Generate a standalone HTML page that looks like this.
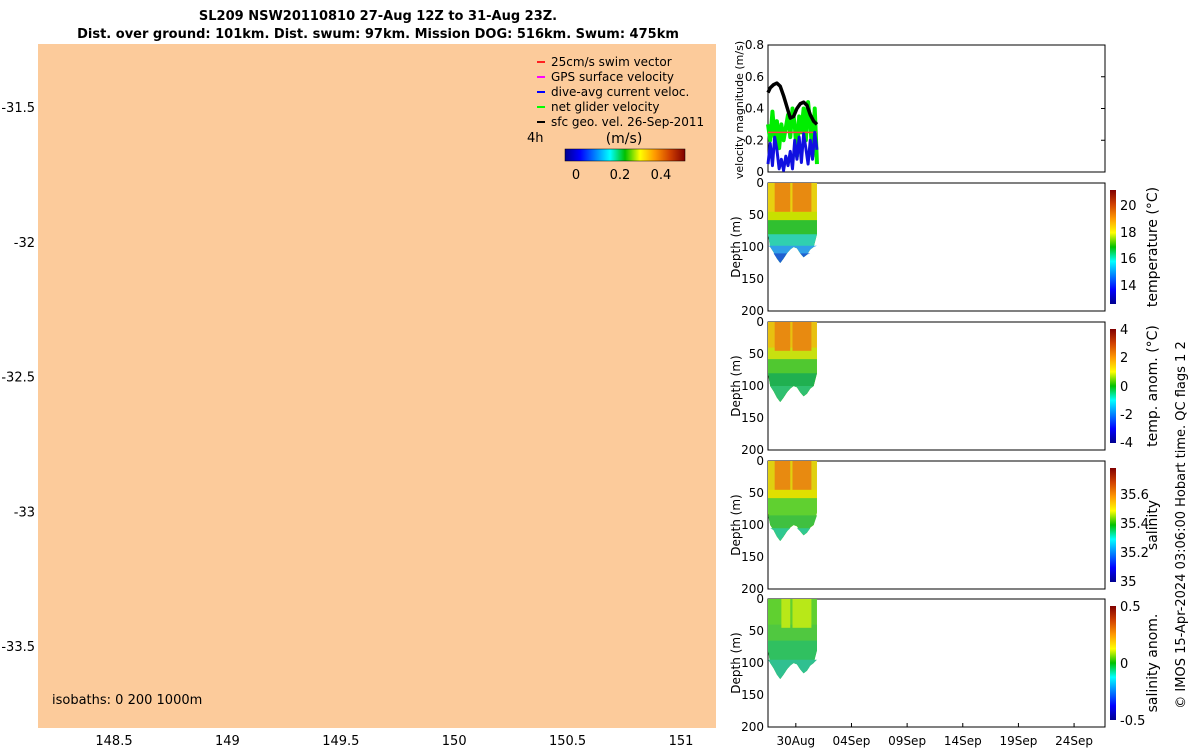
<!DOCTYPE html>
<html><head><meta charset="utf-8"><style>
body{margin:0;background:#fff;font-family:"Liberation Sans","DejaVu Sans",sans-serif}
svg text{font-family:"DejaVu Sans","Liberation Sans",sans-serif}
</style></head><body>
<svg id="fig" width="1200" height="750" viewBox="0 0 1200 750" xmlns="http://www.w3.org/2000/svg">
<defs>
<linearGradient id="jet" x1="0" x2="1" y1="0" y2="0">
<stop offset="0" stop-color="#00008f"/><stop offset="0.125" stop-color="#0000ff"/><stop offset="0.375" stop-color="#00ffff"/><stop offset="0.5" stop-color="#00c000"/><stop offset="0.625" stop-color="#ffff00"/><stop offset="0.75" stop-color="#ff9900"/><stop offset="0.875" stop-color="#d04000"/><stop offset="1" stop-color="#800000"/></linearGradient>
<linearGradient id="jetv" x1="0" x2="0" y1="1" y2="0">
<stop offset="0" stop-color="#00008f"/><stop offset="0.125" stop-color="#0000ff"/><stop offset="0.375" stop-color="#00ffff"/><stop offset="0.5" stop-color="#00c000"/><stop offset="0.625" stop-color="#ffff00"/><stop offset="0.75" stop-color="#ff9900"/><stop offset="0.875" stop-color="#d04000"/><stop offset="1" stop-color="#800000"/></linearGradient>
</defs>
<g id="title" font-weight="bold" font-size="13" text-anchor="middle">
<text x="378" y="20">SL209 NSW20110810 27-Aug 12Z to 31-Aug 23Z.</text>
<text x="378" y="38">Dist. over ground: 101km. Dist. swum: 97km. Mission DOG: 516km. Swum: 475km</text>
</g>
<g id="map"></g>
<g id="right"></g>
</svg>
<script>
// ---- map data ----
const mapXTicks=[148.5,149,149.5,150,150.5,151];
const mapYTicks=[-31.5,-32,-32.5,-33,-33.5];
// ---- velocity data (day offsets from 27-Aug 12Z) ----
const velT=[0,0.2,0.4,0.6,0.8,1,1.2,1.4,1.6,1.8,2,2.2,2.4,2.6,2.8,3,3.2,3.4,3.6,3.8,4,4.2,4.4];
const netVel=[0.3,0.2,0.38,0.22,0.32,0.15,0.3,0.2,0.28,0.36,0.22,0.4,0.3,0.1,0.35,0.25,0.4,0.2,0.44,0.3,0.1,0.4,0.05];
const diveVel=[0.05,0.18,0.04,0.22,0.14,0.02,0.08,0.01,0.1,0.04,0.13,0.02,0.2,0.08,0.22,0.06,0.24,0.15,0.05,0.2,0.08,0.25,0.14];
const swimVel=[0.25,0.25,0.25,0.25,0.25,0.25,0.25,0.25,0.25,0.25,0.25,0.25,0.25,0.25,0.25,0.25,0.25,0.25,0.25,0.25,0.25,0.25,0.25];
const geoT=[0,0.2,0.5,0.8,1.1,1.4,1.7,2.0,2.3,2.6,2.9,3.2,3.5,3.8,4.1,4.4];
const geoVel=[0.5,0.53,0.55,0.56,0.54,0.48,0.41,0.34,0.35,0.4,0.43,0.44,0.42,0.36,0.32,0.3];
// ---- section data: dive times & max depths ----
const diveT=[0,0.2,0.5,0.8,1.1,1.4,1.7,2.0,2.3,2.6,2.9,3.2,3.5,3.8,4.1,4.4];
const diveD=[80,100,108,118,125,118,110,104,100,102,110,116,112,104,100,80];
const dateLabels=["30Aug","04Sep","09Sep","14Sep","19Sep","24Sep"];
const dateOffsets=[2.5,7.5,12.5,17.5,22.5,27.5];
const depthTicks=[0,50,100,150,200];
const tempLayers=[[0,"#e8d010"],[45,"#c8e000"],[58,"#30c030"],[80,"#30d0b0"],[98,"#30a0e8"],[110,"#2060d0"]];
const anomLayers=[[0,"#e8c010"],[40,"#c8e010"],[58,"#50c830"],[80,"#20b050"],[100,"#30c070"]];
const salLayers=[[0,"#e0d010"],[45,"#e0e000"],[58,"#60d030"],[85,"#40c040"],[105,"#30c890"]];
const sanLayers=[[0,"#60d030"],[40,"#50c840"],[65,"#30c060"],[95,"#30c090"]];

const NS="http://www.w3.org/2000/svg";
function mk(p,t,a,txt){const e=document.createElementNS(NS,t);for(const k in a)e.setAttribute(k,a[k]);if(txt!==undefined)e.textContent=txt;p.appendChild(e);return e;}

// Map
const map=document.getElementById('map');
const MX0=38,MX1=716,MY0=44,MY1=728;
const mx=v=>114+(v-148.5)*226.8, my=v=>107+(-31.5-v)*269.6;
let bg=mk(map,'rect',{x:MX0,y:MY0,width:MX1-MX0,height:MY1-MY0,fill:'#fccb9b'});


mapXTicks.forEach(v=>{let t=mk(map,'text',{x:mx(v),y:745,'font-size':13,'text-anchor':'middle'},String(v));

});
mapYTicks.forEach(v=>{let t=mk(map,'text',{x:35,y:my(v)+5,'font-size':13,'text-anchor':'end'},String(v));

});
let iso=mk(map,'text',{x:52,y:704,'font-size':13,'xml:space':'preserve'},'isobaths: 0   200  1000m');


const leg=[["#ff2020","25cm/s swim vector"],["#ff00ff","GPS surface velocity"],["#0000ff","dive-avg current veloc."],["#00ff00","net glider velocity"],["#000","sfc geo. vel. 26-Sep-2011"]];
leg.forEach((l,i)=>{let g=mk(map,'g',{});


mk(g,'line',{x1:537,x2:545,y1:62+i*15,y2:62+i*15,stroke:l[0],'stroke-width':2});
mk(g,'text',{x:551,y:66+i*15,'font-size':12},l[1]);});
let h4=mk(map,'text',{x:527,y:142,'font-size':13},'4h');


mk(map,'text',{x:624,y:143,'font-size':14,'text-anchor':'middle'},'(m/s)');
let cb=mk(map,'rect',{x:565,y:149,width:120,height:12,fill:'url(#jet)',stroke:'#000','stroke-width':0.5});


[[0,576],[0.2,620],[0.4,661]].forEach(a=>mk(map,'text',{x:a[1],y:179,'font-size':13,'text-anchor':'middle'},String(a[0])));

// Right panels
const R=document.getElementById('right');
const PX0=768,PX1=1105;
const tx=d=>768+d*11.13;
function frame(y0,y1,name){let r=mk(R,'rect',{x:PX0,y:y0,width:PX1-PX0,height:y1-y0,fill:'#fff',stroke:'#000','stroke-width':1});

return r;}
const VY0=45,VY1=172;const vy=v=>VY1-v/0.8*(VY1-VY0);
frame(VY0,VY1,'velocity-panel');
[0,0.2,0.4,0.6,0.8].forEach(v=>{mk(R,'text',{x:764,y:vy(v)+4,'font-size':12,'text-anchor':'end'},String(v));
mk(R,'line',{x1:PX1,x2:PX1-4,y1:vy(v),y2:vy(v),stroke:'#000'});});
let vl=mk(R,'text',{transform:'translate(743,110) rotate(-90)','font-size':11,'text-anchor':'middle'},'velocity magnitude (m/s)');


function poly(t,v,col,w,name){let p=mk(R,'polyline',{points:t.map((d,i)=>tx(d)+','+vy(v[i])).join(' '),fill:'none',stroke:col,'stroke-width':w,'stroke-linejoin':'round'});

}
poly(velT,netVel,'#00ee00',4,'net-glider-velocity-line');
poly(velT,swimVel,'#ff4040',1.5,'swim-vector-line');
poly(velT,diveVel,'#1010e0',3,'dive-avg-velocity-line');
poly(geoT,geoVel,'#000',3.5,'geo-velocity-line');

const secs=[
 {y0:183,y1:311,layers:tempLayers,name:'temperature-section',cb:[[20,205],[18,232],[16,258],[14,285]],lab:'temperature (°C)',cbName:'temperature-colorbar'},
 {y0:322,y1:450,layers:anomLayers,name:'temp-anomaly-section',cb:[[4,329],[2,357],[0,386],[-2,414],[-4,442]],lab:'temp. anom. (°C)',cbName:'temp-anomaly-colorbar'},
 {y0:461,y1:589,layers:salLayers,name:'salinity-section',cb:[[35.6,494],[35.4,523],[35.2,552],[35,581]],lab:'salinity',cbName:'salinity-colorbar'},
 {y0:599,y1:727,layers:sanLayers,name:'salinity-anomaly-section',cb:[[0.5,606],[0,663],[-0.5,720]],lab:'salinity anom.',cbName:'salinity-anomaly-colorbar'}];
secs.forEach(s=>{
 frame(s.y0,s.y1,s.name);
 const dy=d=>s.y0+d/200*(s.y1-s.y0);
 depthTicks.forEach(d=>{mk(R,'text',{x:764,y:dy(d)+4,'font-size':12,'text-anchor':'end'},String(d));});
 let yl=mk(R,'text',{transform:`translate(740,${(s.y0+s.y1)/2}) rotate(-90)`,'font-size':12,'text-anchor':'middle'},'Depth (m)');
 
 
 s.layers.forEach(L=>{
  const top=dy(L[0]);
  const p=[[tx(diveT[0]),top]].concat(diveT.map((d,i)=>[tx(d),dy(Math.max(L[0],diveD[i]))]),[[tx(diveT[diveT.length-1]),top]]);
  let pg=mk(R,'polygon',{points:p.map(q=>q.join(',')).join(' '),fill:L[1]});
  
  
 });
 if(s.name==='salinity-anomaly-section'){[[1.2,2.0],[2.2,3.9]].forEach(c=>{mk(R,'rect',{x:tx(c[0]),y:dy(0),width:tx(c[1])-tx(c[0]),height:dy(45)-dy(0),fill:'#b8e818'});});}
 else {[[0.6,2.0],[2.2,3.9]].forEach(c=>{mk(R,'rect',{x:tx(c[0]),y:dy(0),width:tx(c[1])-tx(c[0]),height:dy(45)-dy(0),fill:'#e88a10'});});}
 let c=mk(R,'rect',{x:1110,y:s.y0+7,width:6,height:s.y1-s.y0-14,fill:'url(#jetv)'});
 
 
 s.cb.forEach(t=>mk(R,'text',{x:1120,y:t[1]+5,'font-size':13},String(t[0])));
 mk(R,'text',{transform:`translate(1157,${(s.y0+s.y1)/2}) rotate(-90)`,'font-size':14,'text-anchor':'middle'},s.lab);
});
dateLabels.forEach((l,i)=>{let t=mk(R,'text',{x:tx(dateOffsets[i]),y:745,'font-size':12,'text-anchor':'middle'},l);


mk(R,'line',{x1:tx(dateOffsets[i]),x2:tx(dateOffsets[i]),y1:727,y2:723,stroke:'#000'});});
let cp=mk(R,'text',{transform:'translate(1185,525) rotate(-90)','font-size':13,'text-anchor':'middle'},'© IMOS 15-Apr-2024 03:06:00 Hobart time. QC flags 1  2');


</script>
</body></html>
